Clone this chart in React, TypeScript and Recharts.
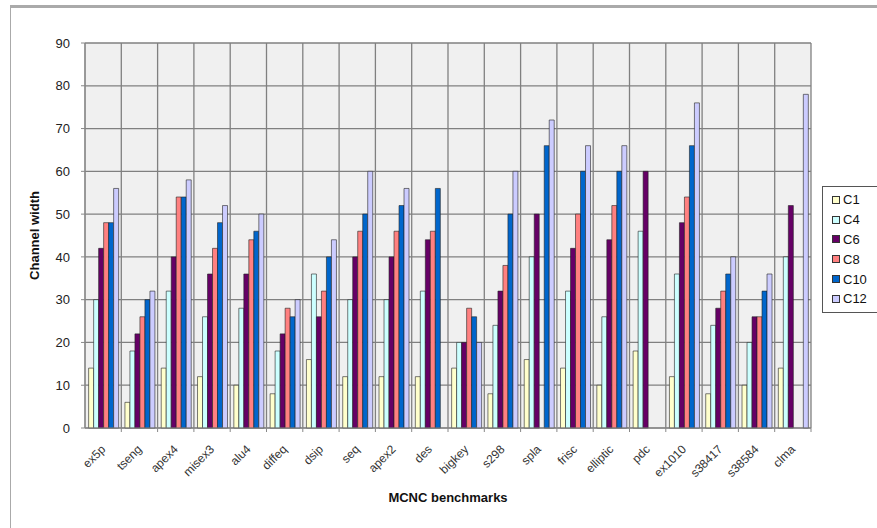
import React from 'react';
import { BarChart, Bar, XAxis, YAxis, CartesianGrid } from 'recharts';

const CATEGORIES = [
  'ex5p', 'tseng', 'apex4', 'misex3', 'alu4', 'diffeq', 'dsip', 'seq', 'apex2', 'des',
  'bigkey', 's298', 'spla', 'frisc', 'elliptic', 'pdc', 'ex1010', 's38417', 's38584', 'clma',
];

const C1 = [14, 6, 14, 12, 10, 8, 16, 12, 12, 12, 14, 8, 16, 14, 10, 18, 12, 8, 10, 14];
const C4 = [30, 18, 32, 26, 28, 18, 36, 30, 30, 32, 20, 24, 40, 32, 26, 46, 36, 24, 20, 40];
const C6 = [42, 22, 40, 36, 36, 22, 26, 40, 40, 44, 20, 32, 50, 42, 44, 60, 48, 28, 26, 52];
const C8 = [48, 26, 54, 42, 44, 28, 32, 46, 46, 46, 28, 38, null, 50, 52, null, 54, 32, 26, null];
const C10 = [48, 30, 54, 48, 46, 26, 40, 50, 52, 56, 26, 50, 66, 60, 60, null, 66, 36, 32, null];
const C12 = [56, 32, 58, 52, 50, 30, 44, 60, 56, null, 20, 60, 72, 66, 66, null, 76, 40, 36, 78];

const Y_TICKS = [0, 10, 20, 30, 40, 50, 60, 70, 80, 90];

const SERIES = [
  { key: 'C1', values: C1, color: '#ffffcc' },
  { key: 'C4', values: C4, color: '#ccffff' },
  { key: 'C6', values: C6, color: '#660066' },
  { key: 'C8', values: C8, color: '#ff8080' },
  { key: 'C10', values: C10, color: '#0066cc' },
  { key: 'C12', values: C12, color: '#ccccff' },
];

const data = CATEGORIES.map((name, i) => {
  const row: Record<string, any> = { name };
  SERIES.forEach((s) => {
    row[s.key] = s.values[i];
  });
  return row;
});

const W = 877;
const H = 528;
const LEFT = 85;
const RIGHT = 66;
const TOP = 43;
const BOTTOM = 100;
const BAND = (W - LEFT - RIGHT) / CATEGORIES.length;
const FONT = '"Liberation Sans", Arial, sans-serif';

const XTick = (props: any) => {
  const { x, y, payload } = props;
  const axisY = y - 4;
  return (
    <g>
      <line x1={x + BAND / 2} y1={axisY} x2={x + BAND / 2} y2={axisY + 4} stroke="#888" />
      <text
        x={0}
        y={0}
        transform={`translate(${x + 3},${axisY + 22}) rotate(-45)`}
        textAnchor="end"
        fontSize={12}
        fill="#333"
        fontFamily={FONT}
      >
        {payload.value}
      </text>
    </g>
  );
};

const LegendBox = () => (
  <div
    style={{
      position: 'absolute',
      left: 822,
      top: 186,
      border: '1px solid #555',
      background: '#fff',
      padding: '3px 6px 3px 9px',
      fontFamily: FONT,
      fontSize: 13,
      color: '#111',
      width: 60,
    }}
  >
    {SERIES.map((s) => (
      <div key={s.key} style={{ display: 'flex', alignItems: 'center', height: 19.8 }}>
        <span
          style={{
            width: 6,
            height: 6,
            background: s.color,
            border: '1px solid #333',
            marginRight: 3,
          }}
        />
        {s.key}
      </div>
    ))}
  </div>
);

export default function App() {
  return (
    <div style={{ position: 'absolute', left: 0, top: 0, width: W, height: H, background: '#fff', overflow: 'hidden' }}>
      <div
        style={{
          position: 'absolute',
          left: 10,
          top: 5,
          width: W,
          height: H,
          borderTop: '3px solid #aaa',
          borderLeft: '1px solid #aaa',
        }}
      />
      <div style={{ position: 'absolute', left: 0, top: 0 }}>
        <BarChart
          width={W}
          height={H}
          data={data}
          margin={{ top: TOP, right: RIGHT, bottom: 0, left: 0 }}
          barCategoryGap="10%"
          barGap={0}
        >
          <CartesianGrid
            fill="#f0f0f0"
            stroke="#808080"
            strokeWidth={1.3}
            verticalCoordinatesGenerator={({ offset }: any) =>
              CATEGORIES.map((_, i) => offset.left + (i * offset.width) / CATEGORIES.length).concat(
                offset.left + offset.width
              )
            }
          />
          <XAxis
            dataKey="name"
            height={BOTTOM}
            interval={0}
            tickLine={false}
            tickSize={4}
            tickMargin={0}
            stroke="#888"
            tick={<XTick />}
            label={{
              value: 'MCNC benchmarks',
              position: 'insideBottom',
              offset: 26,
              fontSize: 13,
              fontWeight: 'bold',
              fill: '#111',
              fontFamily: FONT,
            }}
          />
          <YAxis
            width={LEFT}
            domain={[0, 90]}
            ticks={Y_TICKS}
            interval={0}
            tickSize={4}
            tickMargin={11}
            stroke="#888"
            tick={{ fontSize: 13, fill: '#222', fontFamily: FONT }}
            label={{
              value: 'Channel width',
              angle: -90,
              position: 'center',
              dx: -8,
              fontSize: 13,
              fontWeight: 'bold',
              fill: '#111',
              fontFamily: FONT,
            }}
          />
          {SERIES.map((s) => (
            <Bar
              key={s.key}
              dataKey={s.key}
              fill={s.color}
              stroke="#222"
              strokeWidth={0.6}
              isAnimationActive={false}
            />
          ))}
        </BarChart>
      </div>
      <LegendBox />
    </div>
  );
}
